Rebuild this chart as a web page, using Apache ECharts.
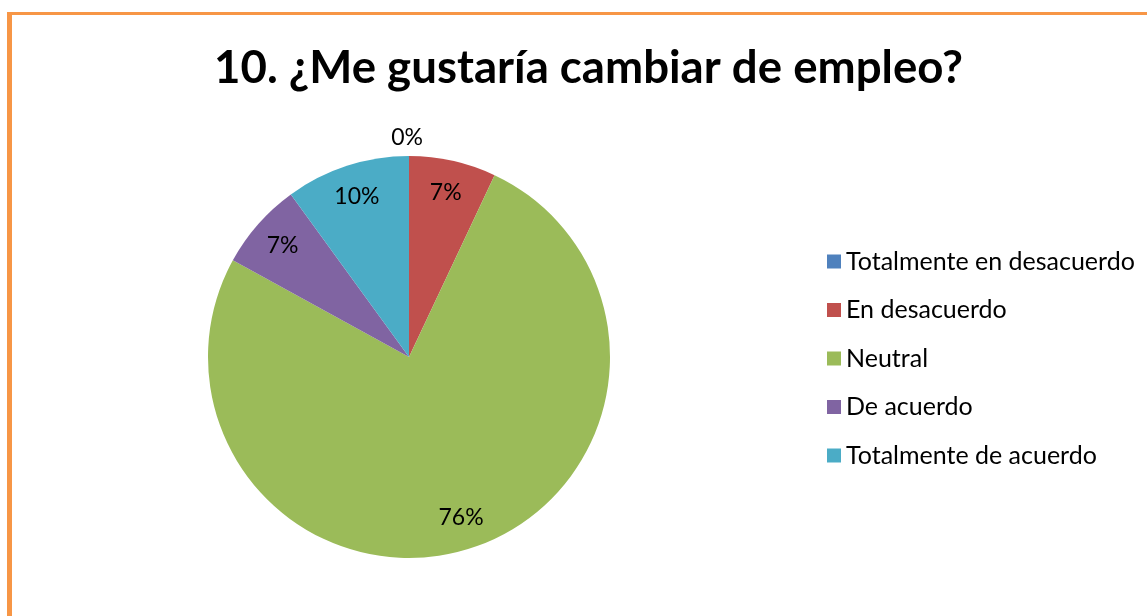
<!DOCTYPE html>
<html>
<head>
<meta charset="utf-8">
<script src="https://cdn.jsdelivr.net/npm/echarts@6/dist/echarts.min.js"></script>
<style>
  html, body { margin: 0; padding: 0; background: #ffffff; }
  #frame { position: absolute; left: 7px; top: 12px; width: 1200px; height: 700px;
           border-left: 5px solid #F79646; border-top: 3px solid #F79646; box-sizing: border-box; }
  #chart { position: absolute; left: 0; top: 0; width: 1147px; height: 616px; }
</style>
</head>
<body>
<div id="frame"></div>
<div id="chart"></div>
<script>
const titleText = "10. ¿Me gustaría cambiar de empleo?";
const categories = ["Totalmente en desacuerdo", "En desacuerdo", "Neutral", "De acuerdo", "Totalmente de acuerdo"];
const values = [0, 7, 76, 7, 10];
const colors = ["#4F81BD", "#C0504D", "#9BBB59", "#8064A2", "#4BACC6"];

const FONT = "Lato, 'Open Sans', sans-serif";
const chart = echarts.init(document.getElementById('chart'), null, { renderer: 'canvas' });

const pieData = categories.map((name, i) => ({ name: name, value: values[i], itemStyle: { color: colors[i] } }));
const labelData = categories.map((name, i) => {
  const item = { name: name, value: values[i], itemStyle: { color: 'rgba(0,0,0,0)' } };
  if (values[i] === 0) {
    item.label = { position: 'outside', distanceToLabelLine: 0, padding: [0, -14, 0, 0] };
    item.labelLine = { show: false, length: 18, length2: 0 };
  }
  return item;
});

chart.setOption({
  animation: false,
  color: colors,
  title: {
    text: titleText,
    left: 209,
    top: 40,
    textStyle: { fontFamily: FONT, fontWeight: 'bold', fontSize: 45.6, color: '#000' }
  },
  legend: {
    orient: 'vertical',
    left: 822,
    top: 244,
    itemWidth: 14,
    itemHeight: 14,
    itemGap: 23.5,
    icon: 'rect',
    data: categories,
    textStyle: { fontFamily: FONT, fontSize: 25, color: '#000', padding: [0, 0, 0, 0] }
  },
  series: [
    {
      type: 'pie',
      center: [409, 357],
      radius: [0, 201],
      startAngle: 90,
      clockwise: true,
      silent: true,
      label: { show: false },
      labelLine: { show: false },
      data: pieData
    },
    {
      type: 'pie',
      center: [409, 357],
      radius: [130, 201],
      startAngle: 90,
      clockwise: true,
      silent: true,
      legendHoverLink: false,
      label: {
        show: true,
        position: 'inside',
        formatter: '{c}%',
        fontFamily: FONT,
        fontSize: 23,
        color: '#000'
      },
      labelLine: { show: false },
      data: labelData
    }
  ]
});
</script>
</body>
</html>
